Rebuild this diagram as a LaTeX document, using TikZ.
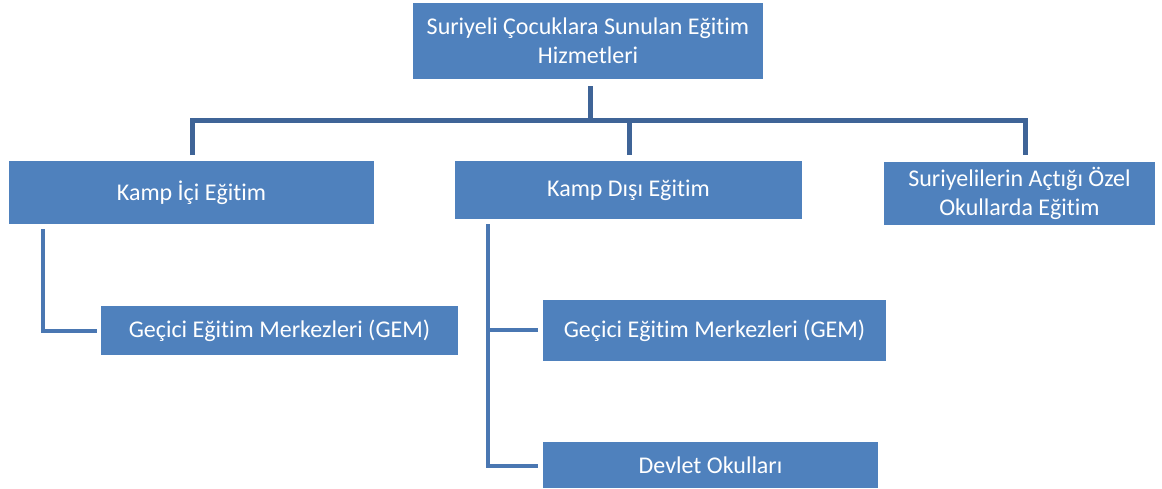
\documentclass[tikz,border=0pt]{standalone}
\usepackage{fontspec}
\setmainfont[Ligatures={NoCommon}]{Carlito}
\usetikzlibrary{calc}
\definecolor{boxblue}{HTML}{4F81BD}
\definecolor{topline}{HTML}{3F6497}
\definecolor{subline}{HTML}{4A77B2}
\tikzset{
  box/.style={fill=boxblue, draw=none, inner sep=0pt, outer sep=0pt, text=white, align=center,
    font=\fontsize{24}{29}\selectfont},
  busline/.style={draw=topline, line width=5pt, line join=miter},
  subconn/.style={draw=subline, line width=4.5pt, line join=miter}
}
\begin{document}
\begin{tikzpicture}[x=1pt,y=-1pt]
\useasboundingbox (0,0) rectangle (1162,488);
\node[box, minimum width=350pt, minimum height=76pt] (top) at (588,41) {Suriyeli Çocuklara Sunulan Eğitim\\Hizmetleri};
\node[box, minimum width=365pt, minimum height=63pt] (ki) at (191.5,192.5) {Kamp İçi Eğitim};
\node[box, minimum width=347pt, minimum height=58pt] (kd) at (628.5,190) {Kamp Dışı Eğitim};
\node[box, minimum width=271pt, minimum height=63pt] (so) at (1019.5,193.5) {Suriyelilerin Açtığı Özel\\Okullarda Eğitim};
\node[box, minimum width=357pt, minimum height=49pt] (gem1) at (279.5,330.5) {Geçici Eğitim Merkezleri (GEM)};
\node[box, minimum width=343pt, minimum height=61pt] (gem2) at (714.5,330.5) {Geçici Eğitim Merkezleri (GEM)};
\node[box, minimum width=335pt, minimum height=46pt] (do) at (710.5,465) {Devlet Okulları};
% top tree
\coordinate (t0) at (590,86);
\coordinate (tb) at (590,120);
\coordinate (ki0) at (192,155);
\coordinate (kd0) at (629,155);
\coordinate (so0) at (1025,155);
\coordinate (kdb) at (629,120);
\draw[busline] (t0) -- (tb);
\draw[busline] (ki0) |- (so0 |- tb) -- (so0);
\draw[busline] (kdb) -- (kd0);
% left sub
\coordinate (l0) at (43,229);
\coordinate (l1) at (97,331);
\draw[subconn] (l0) |- (l1);
% middle sub
\coordinate (m0) at (488,224);
\coordinate (m1) at (538,330);
\coordinate (m2) at (538,466);
\draw[subconn] (m0) |- (m2);
\draw[subconn] (m0 |- m1) -- (m1);
\end{tikzpicture}
\end{document}
